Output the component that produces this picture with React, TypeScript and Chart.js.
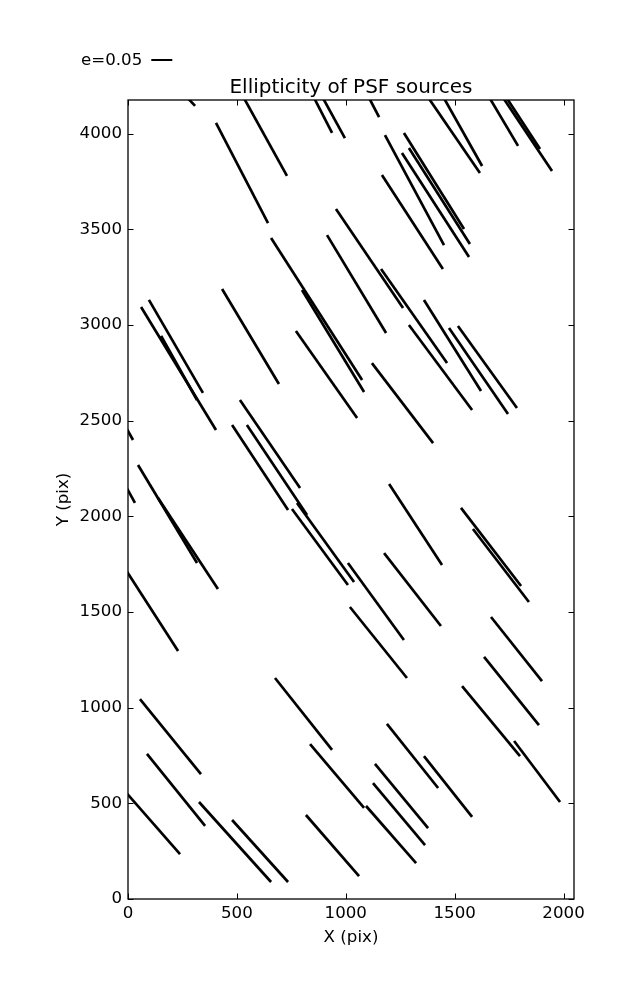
import React, { useEffect, useRef } from 'react';
import { Chart, registerables } from 'chart.js';

Chart.register(...registerables);

// Axis ranges (CCD pixels)
const X_MIN = 0;
const X_MAX = 2048;
const Y_MIN = 0;
const Y_MAX = 4176;

const xTickValues = [0, 500, 1000, 1500, 2000];
const yTickValues = [0, 500, 1000, 1500, 2000, 2500, 3000, 3500, 4000];

const titleText = 'Ellipticity of PSF sources';
const keyLabel = 'e=0.05';
const xAxisLabel = 'X (pix)';
const yAxisLabel = 'Y (pix)';

// Whisker segments: start (x1, y1) and end (x2, y2), in pixel data units
const whiskerX1 = [
  257, 512, 404, 836, 875, 1088, 1355, 1430,
  1639, 1699, 1715, 1180, 1267, 1290, 1258, 1166,
  955, 914, 1162, 657, 799, 771, 1359, 1290,
  1474, 1515, 1120, 432, 60, 96, 152, 514,
  478, 546, -18, 46, 138, -18, -18, 753,
  776, 1010, 675, 55, 1199, 1529, 1584, 1176,
  1019, 1667, 1635, 1534, 836, 87, -23, 326,
  478, 817, 1773, 1189, 1359, 1134, 1125, 1093,
];
const whiskerY1 = [
  4207, 4228, 4056, 4228, 4228, 4228, 4228, 4228,
  4228, 4228, 4228, 3993, 4004, 3925, 3899, 3784,
  3606, 3470, 3293, 3455, 3183, 2969, 3131, 3000,
  2984, 2995, 2801, 3188, 3094, 3131, 2943, 2608,
  2477, 2477, 2483, 2268, 2096, 2174, 1735, 2038,
  2070, 1756, 1155, 1045, 2169, 2044, 1934, 1808,
  1526, 1474, 1265, 1113, 810, 758, 575, 507,
  413, 439, 826, 915, 747, 706, 606, 486,
];
const whiskerX2 = [
  308, 730, 643, 937, 996, 1153, 1616, 1626,
  1791, 1947, 1892, 1451, 1543, 1570, 1566, 1446,
  1263, 1185, 1465, 1075, 1084, 1052, 1621, 1580,
  1745, 1786, 1401, 693, 404, 344, 317, 790,
  735, 822, 23, 317, 413, 32, 230, 1010,
  1038, 1267, 937, 335, 1442, 1805, 1841, 1437,
  1281, 1901, 1887, 1800, 1084, 354, 239, 657,
  735, 1061, 1984, 1424, 1580, 1378, 1364, 1323,
];
const whiskerY2 = [
  4145, 3779, 3533, 4004, 3977, 4087, 3794, 3831,
  3936, 3805, 3920, 3418, 3502, 3423, 3355, 3293,
  3089, 2958, 2801, 2713, 2650, 2514, 2655, 2556,
  2535, 2566, 2383, 2692, 2451, 2645, 2608, 2148,
  2033, 2007, 2399, 1756, 1620, 2070, 1296, 1641,
  1657, 1354, 779, 653, 1746, 1636, 1552, 1427,
  1155, 1139, 909, 747, 476, 382, 235, 89,
  89, 120, 507, 580, 429, 371, 282, 188,
];

const FONT = '"DejaVu Sans", sans-serif';
const FONT_SIZE = 16.67;

const framePlugin = {
  id: 'mplFrame',
  afterDatasetsDraw(chart: any) {
    const { ctx, chartArea: a, scales } = chart;
    const xs = scales.x;
    const ys = scales.y;
    ctx.save();
    ctx.strokeStyle = '#000';
    ctx.fillStyle = '#000';
    // inward tick marks on all four sides
    const len = 5.5;
    ctx.lineWidth = 1;
    ctx.beginPath();
    xs.ticks.forEach((t: any) => {
      const px = Math.round(xs.getPixelForValue(t.value)) + 0.5;
      ctx.moveTo(px, a.bottom);
      ctx.lineTo(px, a.bottom - len);
      ctx.moveTo(px, a.top);
      ctx.lineTo(px, a.top + len);
    });
    ys.ticks.forEach((t: any) => {
      const py = Math.round(ys.getPixelForValue(t.value)) + 0.5;
      ctx.moveTo(a.left, py);
      ctx.lineTo(a.left + len, py);
      ctx.moveTo(a.right, py);
      ctx.lineTo(a.right - len, py);
    });
    ctx.stroke();
    // axes frame
    ctx.lineWidth = 1.3;
    ctx.strokeRect(a.left, a.top, a.right - a.left, a.bottom - a.top);
    // title
    ctx.font = `20px ${FONT}`;
    ctx.textAlign = 'center';
    ctx.textBaseline = 'alphabetic';
    ctx.fillText(titleText, (a.left + a.right) / 2, a.top - 7);
    // key
    ctx.font = `${FONT_SIZE}px ${FONT}`;
    ctx.textAlign = 'left';
    const kx = 81;
    const ky = 65;
    ctx.fillText(keyLabel, kx, ky);
    const tw = ctx.measureText(keyLabel).width;
    ctx.lineWidth = 2;
    ctx.beginPath();
    ctx.moveTo(kx + tw + 9, ky - 5);
    ctx.lineTo(kx + tw + 30, ky - 5);
    ctx.stroke();
    ctx.restore();
  },
};

export default function App() {
  const canvasRef = useRef<HTMLCanvasElement | null>(null);

  useEffect(() => {
    if (!canvasRef.current) return;
    const datasets = whiskerX1.map((x1, i) => ({
      data: [
        { x: x1, y: whiskerY1[i] },
        { x: whiskerX2[i], y: whiskerY2[i] },
      ],
      showLine: true,
      borderColor: '#000',
      backgroundColor: '#000',
      borderWidth: 2.7,
      borderCapStyle: 'butt' as const,
      pointRadius: 0,
      pointHoverRadius: 0,
      tension: 0,
      clip: 0,
    }));

    const tickFont = { family: FONT, size: FONT_SIZE };

    const chart = new Chart(canvasRef.current, {
      type: 'scatter',
      data: { datasets },
      options: {
        animation: false,
        responsive: false,
        events: [],
        layout: { padding: { left: 0, right: 63, top: 100, bottom: 0 } },
        plugins: {
          legend: { display: false },
          title: { display: false },
          tooltip: { enabled: false },
        },
        scales: {
          x: {
            type: 'linear',
            position: 'bottom',
            min: X_MIN,
            max: X_MAX,
            afterBuildTicks: (scale: any) => {
              scale.ticks = xTickValues.map((v) => ({ value: v }));
            },
            afterFit: (scale: any) => {
              scale.height = 101;
            },
            grid: { display: false, drawTicks: false },
            border: { display: false },
            ticks: {
              color: '#000',
              font: tickFont,
              padding: 5,
              maxRotation: 0,
              autoSkip: false,
              callback: (v: any) => String(v),
            },
            title: {
              display: true,
              text: xAxisLabel,
              color: '#000',
              font: tickFont,
              padding: { top: 0, bottom: 52 },
            },
          },
          y: {
            type: 'linear',
            position: 'left',
            min: Y_MIN,
            max: Y_MAX,
            afterBuildTicks: (scale: any) => {
              scale.ticks = yTickValues.map((v) => ({ value: v }));
            },
            afterFit: (scale: any) => {
              scale.width = 128;
            },
            grid: { display: false, drawTicks: false },
            border: { display: false },
            ticks: {
              color: '#000',
              font: tickFont,
              padding: 6,
              autoSkip: false,
              callback: (v: any) => String(v),
            },
            title: {
              display: true,
              text: yAxisLabel,
              color: '#000',
              font: tickFont,
              padding: { top: 54, bottom: 0 },
            },
          },
        },
      },
      plugins: [framePlugin],
    });
    return () => chart.destroy();
  }, []);

  return (
    <div style={{ position: 'absolute', left: 0, top: 0, width: 637, height: 1000, background: '#fff' }}>
      <canvas ref={canvasRef} width={637} height={1000} style={{ display: 'block' }} />
    </div>
  );
}
